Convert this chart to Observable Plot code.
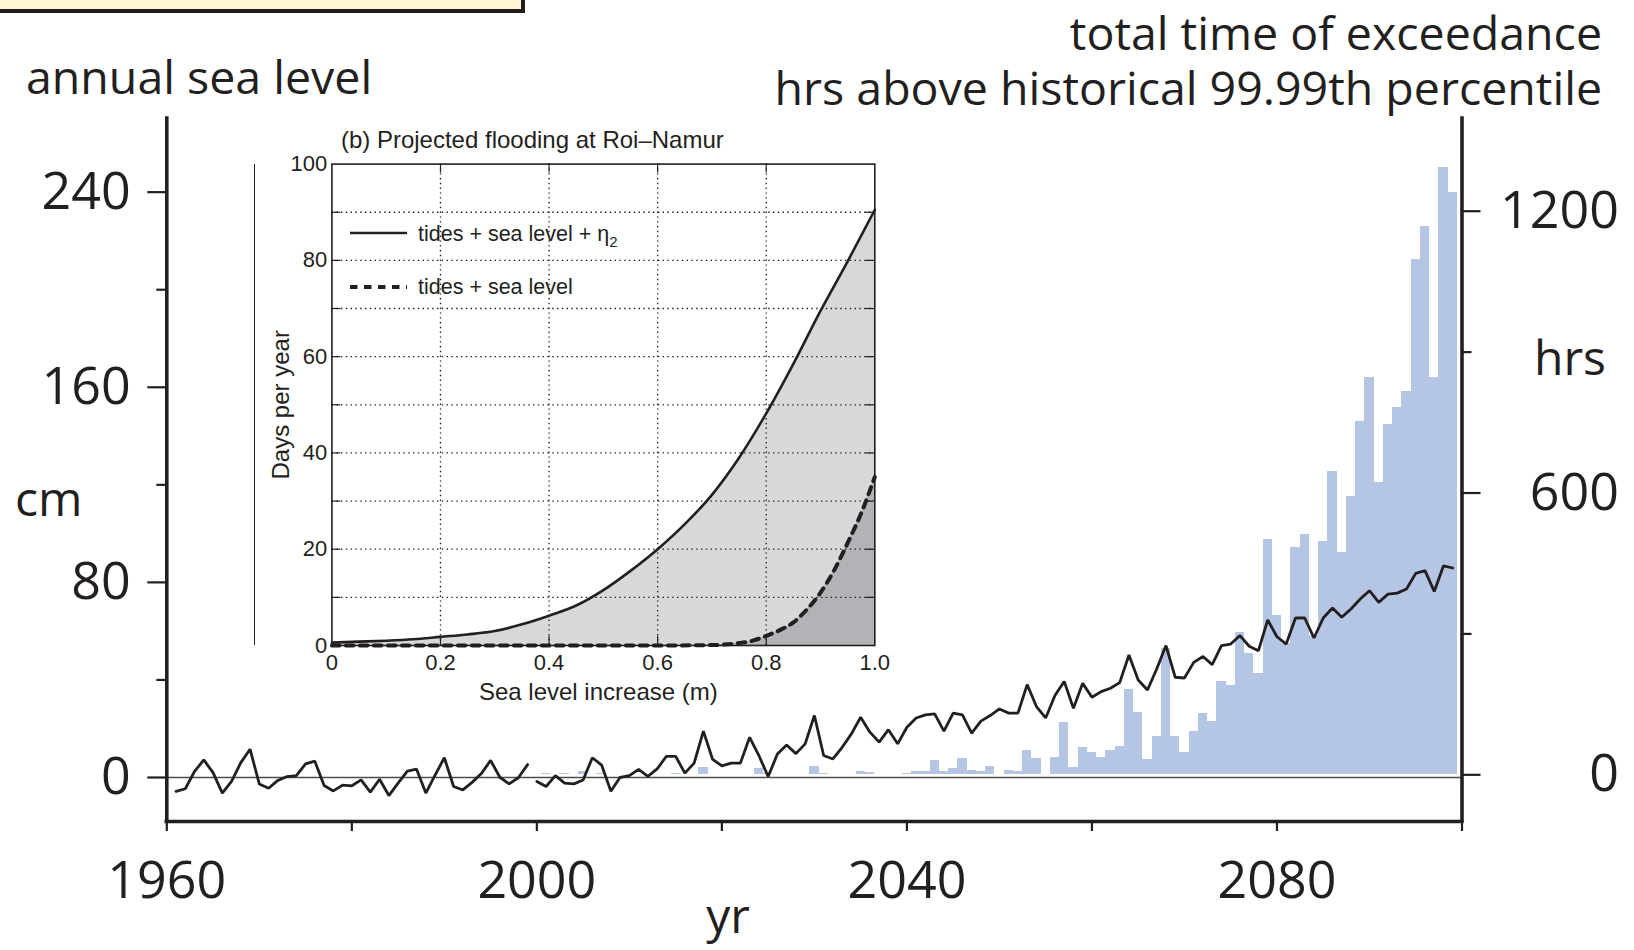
<!DOCTYPE html>
<html>
<head>
<meta charset="utf-8">
<script src="https://cdn.jsdelivr.net/npm/d3@7"></script>
<script src="https://cdn.jsdelivr.net/npm/@observablehq/plot@0.6"></script>
<style>
  html, body { margin: 0; padding: 0; background: #fff; }
  #chart { position: relative; width: 1634px; height: 950px; overflow: hidden; }
  #chart > * { position: absolute; left: 0; top: 0; }
  #notebox { left: -10px; top: -10px; width: 535px; height: 23px; box-sizing: border-box;
             background: #fff6d5; border: 4.5px solid #231f20; }
  #insetEdge { left: 254px; top: 164px; width: 0; height: 481px; border-left: 1.6px solid #231f20; }
  #inset { left: 230px; top: 120px; }
</style>
</head>
<body>
<div id="chart">
  <div id="notebox"></div>
</div>
<script>
// ---- annual sea level (cm), observed 1961–1999 and projected 2000–2099 ----
const observedYears = d3.range(1961, 2000);
const observedLevel = [
  -5.7, -4.6, 2.5, 7.2, 2.0, -6.4, -1.6, 6.1, 11.6, -2.7,
  -4.4, -1.2, 0.4, 0.8, 5.6, 6.7, -3.3, -5.5, -3.1, -3.4,
  -1.0, -6.0, -0.7, -7.4, -2.3, 2.6, 3.4, -6.4, 1.0, 8.1,
  -3.7, -5.1, -2.0, 1.6, 7.0, 0.1, -2.6, -0.1, 5.3
];
const projectedYears = d3.range(2000, 2100);
const projectedLevel = [
  -1.6, -3.7, 0.8, -2.3, -2.6, -1.0, 8.1, 5.1, -5.6, 0.1,
  0.8, 3.3, 0.5, 3.5, 8.7, 8.7, 1.8, 5.9, 19.0, 7.4,
  4.8, 5.9, 5.9, 16.5, 9.0, 0.4, 9.6, 13.3, 9.8, 13.8,
  25.4, 9.0, 7.6, 12.4, 17.9, 24.7, 18.6, 14.5, 19.6, 13.8,
  20.6, 24.4, 25.7, 26.1, 19.0, 26.4, 25.7, 18.2, 23.1, 25.4,
  28.1, 26.4, 26.4, 38.1, 29.1, 24.4, 33.6, 39.4, 28.4, 38.6,
  32.9, 35.2, 36.6, 38.9, 50.2, 40.0, 35.9, 44.5, 54.1, 41.1,
  40.8, 47.2, 49.6, 46.3, 54.1, 54.7, 58.2, 53.8, 52.0, 64.6,
  57.7, 54.7, 65.4, 65.4, 57.2, 65.4, 69.5, 65.7, 69.1, 73.2,
  76.6, 71.8, 75.2, 75.6, 77.3, 83.7, 84.8, 76.3, 86.8, 85.9
];

// ---- hours per year above the historical 99.99th percentile, 2000–2099 ----
const exceedanceHrs = [
  1, 3, 1, 3, 1, 7, 1, 3, 0, 1,
  0, 0, 0, 1, 1, 3, 0, 0, 16, 1,
  0, 0, 0, 1, 14, 3, 1, 1, 1, 1,
  18, 3, 0, 0, 0, 7, 5, 0, 1, 1,
  3, 6, 8, 31, 7, 14, 35, 9, 8, 18,
  1, 9, 8, 52, 35, 0, 37, 111, 16, 58,
  48, 37, 52, 60, 182, 132, 33, 82, 268, 82,
  48, 92, 130, 114, 199, 190, 302, 258, 216, 500,
  339, 280, 483, 512, 297, 496, 645, 474, 593, 753,
  846, 623, 746, 782, 817, 1098, 1168, 846, 1294, 1240
];

// ---- axis ticks ----
const cmTicks = [0, 80, 160, 240];
const cmMinorTicks = [40, 120, 200];
const hrsTicks = [0, 600, 1200];
const hrsMinorTicks = [300, 900];
const yearTicks = [1960, 2000, 2040, 2080];
const yearMinorTicks = [1980, 2020, 2060, 2100];

// ---- inset: projected flooding days vs sea level increase ----
const slrSteps = [0, 0.05, 0.1, 0.15, 0.2, 0.25, 0.3, 0.35, 0.4, 0.45, 0.5,
                  0.55, 0.6, 0.65, 0.7, 0.75, 0.8, 0.85, 0.9, 0.95, 1.0];
const daysWithEta = [0.6, 0.8, 1.0, 1.3, 1.8, 2.3, 3.0, 4.4, 6.2, 8.3, 11.5,
                     15.5, 20.0, 25.2, 31.3, 39.0, 48.2, 58.5, 69.5, 79.8, 90.5];
const slrStepsTide = [0, 0.1, 0.2, 0.3, 0.4, 0.5, 0.6, 0.7, 0.75, 0.775, 0.8,
                      0.825, 0.85, 0.875, 0.9, 0.925, 0.95, 0.975, 1.0];
const daysTideOnly = [0, 0, 0, 0, 0, 0, 0, 0.1, 0.5, 1.0, 2.0,
                      3.2, 4.8, 7.5, 11.0, 15.6, 21.3, 27.5, 35.0];
const insetDayTicks = [0, 20, 40, 60, 80, 100];
const insetDayGrid = d3.range(10, 100, 10);
const insetSlrTicks = [0, 0.2, 0.4, 0.6, 0.8, 1.0];
const insetSlrGrid = [0.2, 0.4, 0.6, 0.8];

// ---- tables for the marks ----
const seaLevel = [
  ...observedYears.map((year, i) => ({year, cm: observedLevel[i], period: "observed"})),
  ...projectedYears.map((year, i) => ({year, cm: projectedLevel[i], period: "projected"}))
];
const exceedance = projectedYears.map((year, i) => ({year, hrs: exceedanceHrs[i]}));
const floodEta = slrSteps.map((slr, i) => ({slr, days: daysWithEta[i]}));
const floodTide = slrStepsTide.map((slr, i) => ({slr, days: daysTideOnly[i]}));

// ---- layout ----
const ink = "#231f20";
const sans = "'Open Sans', sans-serif";
const W = 1634, H = 950;
const frame = {left: 166.3, right: 1461.5, top: 118, bottom: 821};
const yearDomain = [1960, 2100];
const cmDomain = [-18.04, 270.2];
const hrsDomain = [-99.4, 1397.4];
const margins = {
  marginLeft: frame.left, marginRight: W - frame.right,
  marginTop: frame.top, marginBottom: H - frame.bottom
};
const chart = document.getElementById("chart");

// Hours of exceedance: bars against the right-hand axis
const barsPlot = Plot.plot({
  width: W, height: H, ...margins,
  x: {domain: yearDomain, axis: null},
  y: {domain: hrsDomain},
  style: {background: "transparent", color: ink, fontFamily: sans, fontSize: "52px"},
  marks: [
    Plot.rectY(exceedance, {
      x1: d => d.year - 0.5, x2: d => d.year + 0.5, y: "hrs",
      fill: "#b4c6e4", shapeRendering: "crispEdges"
    }),
    Plot.axisY(hrsTicks, {anchor: "right", tickSize: 18, tickPadding: 139, textAnchor: "end",
      stroke: ink, strokeWidth: 2.2, label: null, tickFormat: d => String(d)}),
    Plot.axisY(hrsMinorTicks, {anchor: "right", tickSize: 9, fill: "none",
      stroke: ink, strokeWidth: 2.2, label: null})
  ]
});
chart.appendChild(barsPlot);

// Annual sea level line, left axis, time axis and the open frame
const linePlot = Plot.plot({
  width: W, height: H, ...margins,
  x: {domain: yearDomain},
  y: {domain: cmDomain},
  style: {background: "transparent", color: ink, fontFamily: sans, fontSize: "52px"},
  marks: [
    Plot.ruleY([0], {stroke: "#4d4d4f", strokeWidth: 1.4}),
    Plot.line(seaLevel, {x: "year", y: "cm", z: "period", stroke: ink,
      strokeWidth: 2.8, strokeLinejoin: "miter"}),
    Plot.ruleX(yearDomain, {stroke: ink, strokeWidth: 3.6, strokeLinecap: "square"}),
    Plot.ruleY([cmDomain[0]], {stroke: ink, strokeWidth: 3.6, strokeLinecap: "square"}),
    Plot.axisY(cmTicks, {anchor: "left", tickSize: 19, tickPadding: 17,
      stroke: ink, strokeWidth: 2.2, label: null, tickFormat: d => String(d)}),
    Plot.axisY(cmMinorTicks, {anchor: "left", tickSize: 10, fill: "none",
      stroke: ink, strokeWidth: 2.2, label: null}),
    Plot.axisX(yearTicks, {anchor: "bottom", tickSize: 10, tickPadding: 30,
      stroke: ink, strokeWidth: 2.2, label: null, tickFormat: d => String(d)}),
    Plot.axisX(yearMinorTicks, {anchor: "bottom", tickSize: 10, fill: "none",
      stroke: ink, strokeWidth: 2.2, label: null})
  ]
});
chart.appendChild(linePlot);

// Inset panel (b)
const edge = document.createElement("div");
edge.id = "insetEdge";
chart.appendChild(edge);

const inset = {w: 660, h: 600, left: 101.4, right: 15.7, top: 43.6, bottom: 75};
const insetFrameW = inset.w - inset.left - inset.right;
const insetFrameH = inset.h - inset.top - inset.bottom;
const tickLen = 9;
const dotted = {stroke: ink, strokeOpacity: 1, strokeWidth: 1.3, strokeDasharray: "1.4,3.4"};
const insetPlot = Plot.plot({
  width: inset.w, height: inset.h,
  marginLeft: inset.left, marginRight: inset.right, marginTop: inset.top, marginBottom: inset.bottom,
  x: {domain: [0, 1]},
  y: {domain: [0, 100]},
  style: {background: "transparent", color: ink, fontFamily: "'Liberation Sans', Arial, sans-serif", fontSize: "22px"},
  marks: [
    Plot.areaY(floodEta, {x: "slr", y: "days", fill: "#d7d8da", curve: "monotone-x"}),
    Plot.areaY(floodTide, {x: "slr", y: "days", fill: "#b2b3b6", curve: "monotone-x"}),
    Plot.gridY(insetDayGrid, dotted),
    Plot.gridX(insetSlrGrid, dotted),
    Plot.tickY(insetDayGrid, {insetRight: insetFrameW - tickLen, stroke: ink, strokeWidth: 1.2}),
    Plot.tickY(insetDayGrid, {insetLeft: insetFrameW - tickLen, stroke: ink, strokeWidth: 1.2}),
    Plot.tickX(insetSlrGrid, {insetBottom: insetFrameH - tickLen, stroke: ink, strokeWidth: 1.2}),
    Plot.tickX(insetSlrGrid, {insetTop: insetFrameH - tickLen, stroke: ink, strokeWidth: 1.2}),
    Plot.line(floodTide, {x: "slr", y: "days", stroke: ink, strokeWidth: 4,
      strokeDasharray: "7.5,6.5", curve: "monotone-x"}),
    Plot.line(floodEta, {x: "slr", y: "days", stroke: ink, strokeWidth: 2.6, curve: "monotone-x"}),
    Plot.frame({stroke: ink, strokeWidth: 1.6}),
    Plot.axisY(insetDayTicks, {anchor: "left", tickSize: 0, tickPadding: 4.6, label: null}),
    Plot.axisX(insetSlrTicks, {anchor: "bottom", tickSize: 0, tickPadding: 9, label: null,
      tickFormat: d => d === 0 ? "0" : d.toFixed(1)}),
    Plot.text(["(b) Projected flooding at Roi\u2013Namur"], {frameAnchor: "top-left", textAnchor: "start",
      lineAnchor: "middle", dx: 9, dy: -23.6, fontSize: 24}),
    Plot.text(["Days per year"], {frameAnchor: "left", textAnchor: "middle", rotate: -90,
      lineAnchor: "middle", dx: -51, fontSize: 24}),
    Plot.text(["Sea level increase (m)"], {frameAnchor: "bottom", textAnchor: "middle",
      lineAnchor: "middle", dx: -5, dy: 47, fontSize: 24})
  ]
});
insetPlot.id = "inset";
chart.appendChild(insetPlot);

// Titles, axis names and the inset key
const notes = d3.create("svg").attr("width", W).attr("height", H)
  .style("overflow", "visible").style("pointer-events", "none");
const label = (str, x, y, anchor, size = 46.5, family = sans) =>
  notes.append("text").attr("x", x).attr("y", y).attr("text-anchor", anchor)
    .attr("font-family", family).attr("font-size", size).attr("fill", ink).text(str);

label("total time of exceedance", 1602, 50, "end");
label("hrs above historical 99.99th percentile", 1602, 105, "end");
label("annual sea level", 26, 94, "start");
label("cm", 15, 516, "start", 48);
label("hrs", 1534, 375, "start", 48);
label("yr", 728, 933, "middle", 48);

const keyFont = "'Liberation Sans', Arial, sans-serif";
const key = notes.append("g");
key.append("line").attr("x1", 350).attr("x2", 407).attr("y1", 233).attr("y2", 233)
  .attr("stroke", ink).attr("stroke-width", 2.6);
const k1 = key.append("text").attr("x", 418).attr("y", 241).attr("font-family", keyFont)
  .attr("font-size", 21.5).attr("fill", ink);
k1.append("tspan").text("tides + sea level + \u03b7");
k1.append("tspan").attr("font-size", 15).attr("dy", 6).text("2");
key.append("line").attr("x1", 350).attr("x2", 407).attr("y1", 287).attr("y2", 287)
  .attr("stroke", ink).attr("stroke-width", 4).attr("stroke-dasharray", "7.5,6.5");
key.append("text").attr("x", 418).attr("y", 294).attr("font-family", keyFont)
  .attr("font-size", 21.5).attr("fill", ink).text("tides + sea level");

chart.appendChild(notes.node());
</script>
</body>
</html>
